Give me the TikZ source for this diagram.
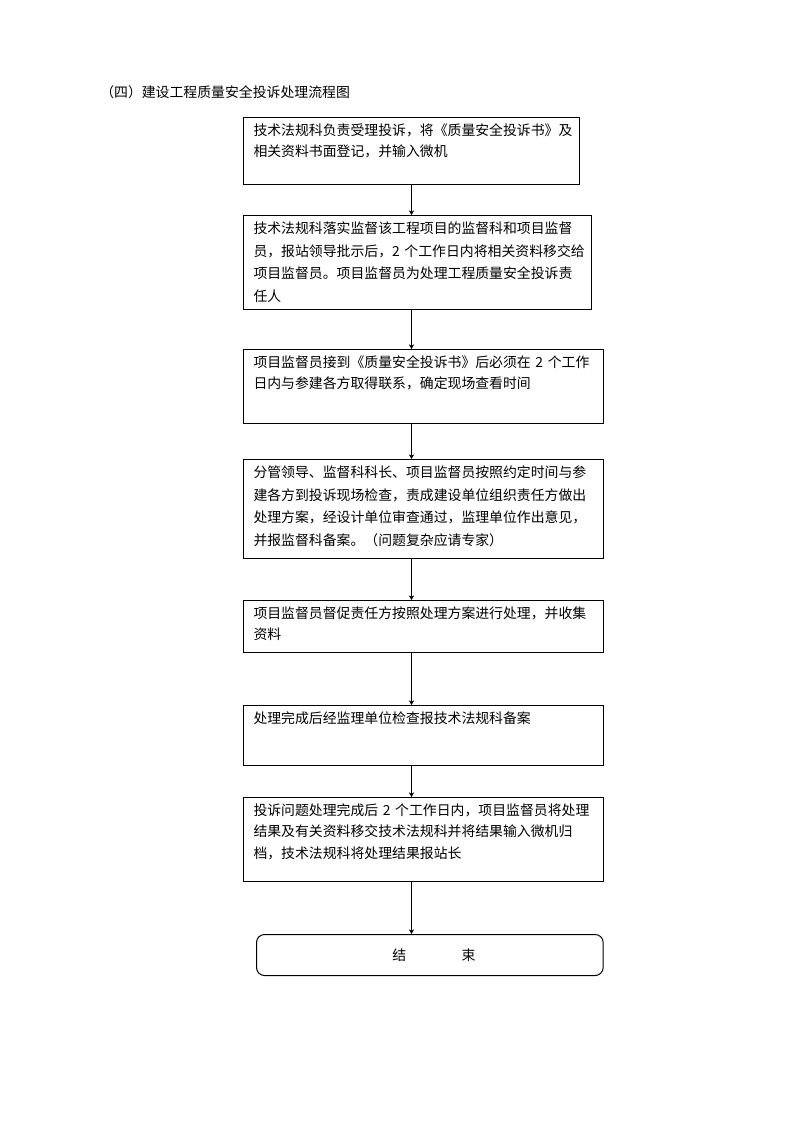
\documentclass[tikz,border=0pt]{standalone}
\usepackage{fontspec}
\newfontfamily\cjk{Noto Sans CJK SC}
\usetikzlibrary{positioning,arrows.meta}

\tikzset{
  flowbox/.style 2 args={draw, line width=0.75pt, anchor=north west, align=left,
    inner xsep=7.5pt, inner ysep=4pt, text width=#1, text height=9.5pt, text depth=#2},
  endbox/.style={draw, line width=0.75pt, rounded corners=6pt, anchor=north west,
    minimum width=260pt, minimum height=30.75pt, inner sep=0pt},
  flowarrow/.style={line width=0.6pt, -{Stealth[length=3.5pt,width=4pt]}},
  every node/.style={font=\cjk\fontsize{10.4pt}{16pt}\selectfont}
}

\begin{document}
\begin{tikzpicture}
\useasboundingbox (0,0) rectangle (595.5pt,-842.25pt);

\node[anchor=west, inner sep=0pt] (title) at (75pt,-69pt) {（四）建设工程质量安全投诉处理流程图};

\node[flowbox={237pt}{32.75pt}] (b1) at (182.25pt,-87.75pt)
  {技术法规科负责受理投诉，将《质量安全投诉书》及\\相关资料书面登记，并输入微机};
\node[flowbox={246pt}{53pt}, below=22.5pt of b1.south west, anchor=north west,
  font=\cjk\fontsize{10.4pt}{17pt}\selectfont] (b2)
  {技术法规科落实监督该工程项目的监督科和项目监督\\员，报站领导批示后，2~个工作日内将相关资料移交给\\项目监督员。项目监督员为处理工程质量安全投诉责\\任人};
\node[flowbox={255pt}{38pt}, below=29.25pt of b2.south west, anchor=north west] (b3)
  {项目监督员接到《质量安全投诉书》后必须在~2~个工作\\日内与参建各方取得联系，确定现场查看时间};
\node[flowbox={255pt}{56.75pt}, below=26.25pt of b3.south west, anchor=north west,
  font=\cjk\fontsize{10.4pt}{17pt}\selectfont] (b4)
  {分管领导、监督科科长、项目监督员按照约定时间与参\\建各方到投诉现场检查，责成建设单位组织责任方做出\\处理方案，经设计单位审查通过，监理单位作出意见，\\并报监督科备案。（问题复杂应请专家）};
\node[flowbox={255pt}{21.5pt}, below=30.75pt of b4.south west, anchor=north west] (b5)
  {项目监督员督促责任方按照处理方案进行处理，并收集\\资料};
\node[flowbox={255pt}{27.5pt}, below=39pt of b5.south west, anchor=north west] (b6)
  {处理完成后经监理单位检查报技术法规科备案};
\node[flowbox={255pt}{45.5pt}, below=23.25pt of b6.south west, anchor=north west] (b7)
  {投诉问题处理完成后~2~个工作日内，项目监督员将处理\\结果及有关资料移交技术法规科并将结果输入微机归\\档，技术法规科将处理结果报站长};
\node[endbox, below right=39pt and 9.75pt of b7.south west, anchor=north west] (end)
  {\hspace{0.6em}结\hspace{4em}束};

\draw[flowarrow] (b1.south) -- (b1.south |- b2.north);
\draw[flowarrow] (b2.south -| b1.south) -- (b3.north -| b1.south);
\draw[flowarrow] (b3.south -| b1.south) -- (b4.north -| b1.south);
\draw[flowarrow] (b4.south -| b1.south) -- (b5.north -| b1.south);
\draw[flowarrow] (b5.south -| b1.south) -- (b6.north -| b1.south);
\draw[flowarrow] (b6.south -| b1.south) -- (b7.north -| b1.south);
\draw[flowarrow] (b7.south -| b1.south) -- (end.north -| b1.south);
\end{tikzpicture}
\end{document}
